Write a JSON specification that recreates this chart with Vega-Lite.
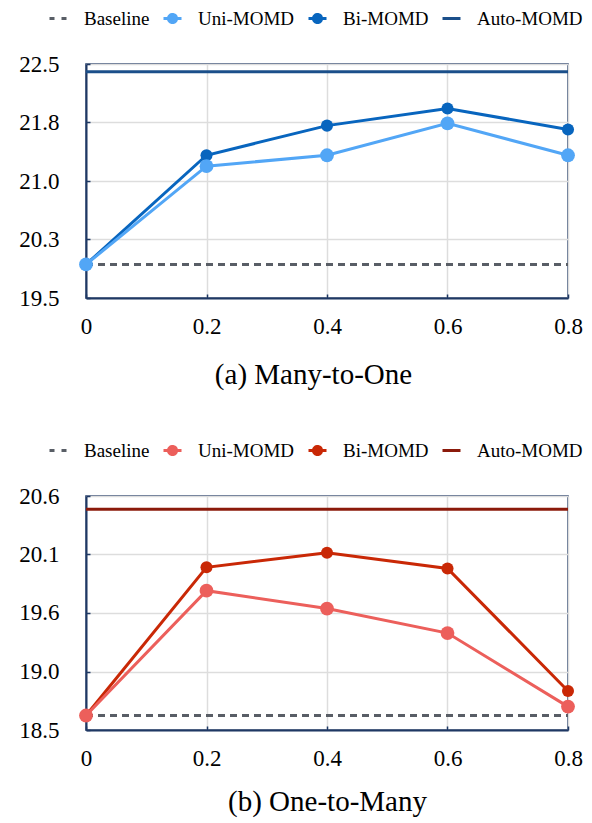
{
  "$schema": "https://vega.github.io/schema/vega-lite/v6.json",
  "background": "white",
  "padding": {"left": 18, "top": 7, "right": 10, "bottom": 5},
  "config": {
    "font": "Liberation Serif",
    "view": {"stroke": "#1f3864", "strokeWidth": 1.5},
    "axis": {
      "labelFont": "Liberation Serif", "labelFontSize": 23, "labelColor": "#000",
      "gridColor": "#dddddd", "gridWidth": 1.5,
      "domainColor": "#1f3864", "domainWidth": 2,
      "tickColor": "#1f3864", "tickWidth": 1.5,
      "titleFont": "Liberation Serif", "titleFontWeight": "normal", "titleColor": "#000"
    },
    "legend": {"labelFont": "Liberation Serif", "labelFontSize": 19, "labelColor": "#000"}
  },
  "datasets": {
    "a": [
      {"series": "Baseline", "x": 0, "y": 19.93},
      {"series": "Baseline", "x": 0.8, "y": 19.93},
      {"series": "Auto-MOMD", "x": 0, "y": 22.4},
      {"series": "Auto-MOMD", "x": 0.8, "y": 22.4},
      {"series": "Bi-MOMD", "x": 0, "y": 19.93},
      {"series": "Bi-MOMD", "x": 0.2, "y": 21.33},
      {"series": "Bi-MOMD", "x": 0.4, "y": 21.71},
      {"series": "Bi-MOMD", "x": 0.6, "y": 21.93},
      {"series": "Bi-MOMD", "x": 0.8, "y": 21.66},
      {"series": "Uni-MOMD", "x": 0, "y": 19.93},
      {"series": "Uni-MOMD", "x": 0.2, "y": 21.19},
      {"series": "Uni-MOMD", "x": 0.4, "y": 21.33},
      {"series": "Uni-MOMD", "x": 0.6, "y": 21.74},
      {"series": "Uni-MOMD", "x": 0.8, "y": 21.33}
    ],
    "b": [
      {"series": "Baseline", "x": 0, "y": 18.63},
      {"series": "Baseline", "x": 0.8, "y": 18.63},
      {"series": "Auto-MOMD", "x": 0, "y": 20.48},
      {"series": "Auto-MOMD", "x": 0.8, "y": 20.48},
      {"series": "Bi-MOMD", "x": 0, "y": 18.63},
      {"series": "Bi-MOMD", "x": 0.2, "y": 19.96},
      {"series": "Bi-MOMD", "x": 0.4, "y": 20.09},
      {"series": "Bi-MOMD", "x": 0.6, "y": 19.95},
      {"series": "Bi-MOMD", "x": 0.8, "y": 18.85},
      {"series": "Uni-MOMD", "x": 0, "y": 18.63},
      {"series": "Uni-MOMD", "x": 0.2, "y": 19.75},
      {"series": "Uni-MOMD", "x": 0.4, "y": 19.59},
      {"series": "Uni-MOMD", "x": 0.6, "y": 19.37},
      {"series": "Uni-MOMD", "x": 0.8, "y": 18.71}
    ]
  },
  "spacing": 198,
  "bounds": "flush",
  "resolve": {"scale": {"color": "independent", "y": "independent"}, "legend": {"color": "independent"}},
  "vconcat": [
    {
      "width": 482, "height": 234,
      "data": {"name": "a"},
      "encoding": {
        "x": {"field": "x", "type": "quantitative", "scale": {"domain": [0, 0.8], "nice": false},
          "axis": {"values": [0, 0.2, 0.4, 0.6, 0.8], "labelExpr": "datum.value === 0 ? '0' : format(datum.value, '.1f')",
            "labelFont": "Liberation Serif", "titleFont": "Liberation Serif",
            "title": "(a) Many-to-One", "titleFontSize": 29, "titlePadding": 22, "titleX": 227,
            "tickSize": -4, "labelPadding": 21, "labelFlush": false}},
        "y": {"field": "y", "type": "quantitative", "scale": {"domain": [19.5, 22.5], "nice": false, "zero": false},
          "axis": {"values": [19.5, 20.2501, 21, 21.7501, 22.5], "format": ".1f", "title": null, "labelFont": "Liberation Serif",
            "tickSize": -4, "labelPadding": 31, "labelFlush": false}},
        "color": {"field": "series", "type": "nominal",
          "scale": {"domain": ["Baseline", "Uni-MOMD", "Bi-MOMD", "Auto-MOMD"], "range": ["#595e66", "#52a6f6", "#0865be", "#1b4f8a"]},
          "legend": {"title": null, "orient": "none", "legendX": -38, "legendY": -56, "direction": "horizontal", "columns": 4, "gridAlign": "none",
            "symbolSize": 324, "symbolStrokeWidth": 3, "symbolOpacity": 1, "labelOffset": 15, "columnPadding": 7, "symbolType": "stroke",
            "labelFont": "Liberation Serif",
            "encode": {"symbols": {"update": {
              "shape": {"signal": "datum.value === 'Uni-MOMD' || datum.value === 'Bi-MOMD' ? 'M-1,0H1M-0.45,0A0.45,0.45 0 1,0 0.45,0A0.45,0.45 0 1,0 -0.45,0' : 'stroke'"},
              "fill": {"signal": "datum.value === 'Uni-MOMD' ? '#52a6f6' : datum.value === 'Bi-MOMD' ? '#0865be' : 'transparent'"},
              "stroke": {"signal": "datum.value === 'Uni-MOMD' ? '#52a6f6' : datum.value === 'Bi-MOMD' ? '#0865be' : datum.value === 'Baseline' ? '#595e66' : '#1b4f8a'"},
              "strokeDash": {"signal": "datum.value === 'Baseline' ? [5, 7] : [1, 0]"},
              "strokeWidth": {"value": 3}
            }}}}}
      },
      "layer": [
        {"transform": [{"filter": "datum.series === 'Baseline'"}], "mark": {"type": "line", "strokeWidth": 3, "strokeDash": [7, 5]}},
        {"transform": [{"filter": "datum.series === 'Auto-MOMD'"}], "mark": {"type": "line", "strokeWidth": 3}},
        {"transform": [{"filter": "datum.series === 'Bi-MOMD'"}], "mark": {"type": "line", "strokeWidth": 3}},
        {"transform": [{"filter": "datum.series === 'Uni-MOMD'"}], "mark": {"type": "line", "strokeWidth": 3}},
        {"transform": [{"filter": "datum.series === 'Bi-MOMD' || datum.series === 'Uni-MOMD'"}],
          "mark": {"type": "point", "filled": true, "opacity": 1, "shape": "circle"},
          "encoding": {"size": {"condition": {"test": "datum.series === 'Uni-MOMD'", "value": 190}, "value": 145}}}
      ]
    },
    {
      "width": 482, "height": 234,
      "data": {"name": "b"},
      "encoding": {
        "x": {"field": "x", "type": "quantitative", "scale": {"domain": [0, 0.8], "nice": false},
          "axis": {"values": [0, 0.2, 0.4, 0.6, 0.8], "labelExpr": "datum.value === 0 ? '0' : format(datum.value, '.1f')",
            "labelFont": "Liberation Serif", "titleFont": "Liberation Serif",
            "title": "(b) One-to-Many", "titleFontSize": 29, "titlePadding": 17,
            "tickSize": -4, "labelPadding": 21, "labelFlush": false}},
        "y": {"field": "y", "type": "quantitative", "scale": {"domain": [18.5, 20.6], "nice": false, "zero": false},
          "axis": {"values": [18.5, 19.0249, 19.5501, 20.0751, 20.6], "format": ".1f", "title": null, "labelFont": "Liberation Serif",
            "tickSize": -4, "labelPadding": 31, "labelFlush": false}},
        "color": {"field": "series", "type": "nominal",
          "scale": {"domain": ["Baseline", "Uni-MOMD", "Bi-MOMD", "Auto-MOMD"], "range": ["#595e66", "#ec5f5b", "#c92806", "#8b1a0b"]},
          "legend": {"title": null, "orient": "none", "legendX": -38, "legendY": -56, "direction": "horizontal", "columns": 4, "gridAlign": "none",
            "symbolSize": 324, "symbolStrokeWidth": 3, "symbolOpacity": 1, "labelOffset": 15, "columnPadding": 7, "symbolType": "stroke",
            "labelFont": "Liberation Serif",
            "encode": {"symbols": {"update": {
              "shape": {"signal": "datum.value === 'Uni-MOMD' || datum.value === 'Bi-MOMD' ? 'M-1,0H1M-0.45,0A0.45,0.45 0 1,0 0.45,0A0.45,0.45 0 1,0 -0.45,0' : 'stroke'"},
              "fill": {"signal": "datum.value === 'Uni-MOMD' ? '#ec5f5b' : datum.value === 'Bi-MOMD' ? '#c92806' : 'transparent'"},
              "stroke": {"signal": "datum.value === 'Uni-MOMD' ? '#ec5f5b' : datum.value === 'Bi-MOMD' ? '#c92806' : datum.value === 'Baseline' ? '#595e66' : '#8b1a0b'"},
              "strokeDash": {"signal": "datum.value === 'Baseline' ? [5, 7] : [1, 0]"},
              "strokeWidth": {"value": 3}
            }}}}}
      },
      "layer": [
        {"transform": [{"filter": "datum.series === 'Baseline'"}], "mark": {"type": "line", "strokeWidth": 3, "strokeDash": [7, 5]}},
        {"transform": [{"filter": "datum.series === 'Auto-MOMD'"}], "mark": {"type": "line", "strokeWidth": 3}},
        {"transform": [{"filter": "datum.series === 'Bi-MOMD'"}], "mark": {"type": "line", "strokeWidth": 3}},
        {"transform": [{"filter": "datum.series === 'Uni-MOMD'"}], "mark": {"type": "line", "strokeWidth": 3}},
        {"transform": [{"filter": "datum.series === 'Bi-MOMD' || datum.series === 'Uni-MOMD'"}],
          "mark": {"type": "point", "filled": true, "opacity": 1, "shape": "circle"},
          "encoding": {"size": {"condition": {"test": "datum.series === 'Uni-MOMD'", "value": 190}, "value": 145}}}
      ]
    }
  ]
}
